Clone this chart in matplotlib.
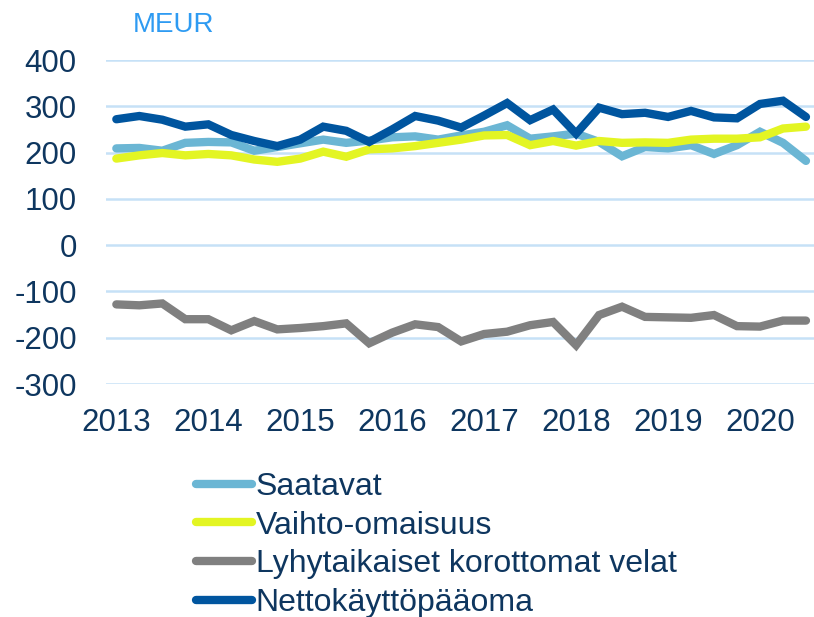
import matplotlib.pyplot as plt

# quarterly figures, 2013 Q1 .. 2020 Q3 (MEUR)
years = ["2013", "2014", "2015", "2016", "2017", "2018", "2019", "2020"]
saatavat = [209, 210, 204, 221, 223, 222, 204, 212, 220, 228, 221, 226, 233, 235, 228, 237,
            245, 259, 230, 235, 241, 223, 192, 212, 209, 216, 197, 216, 245, 221, 182]
vaihto = [187, 194, 199, 194, 197, 194, 185, 180, 187, 202, 191, 207, 209, 214, 221, 228,
          237, 238, 216, 225, 215, 225, 221, 222, 221, 228, 230, 230, 233, 252, 256]
velat = [-128, -130, -126, -160, -160, -184, -164, -182, -179, -175, -169, -212, -189, -171, -177, -208,
         -192, -187, -173, -166, -216, -151, -133, -155, -156, -157, -151, -175, -176, -163, -163]
netto = [272, 279, 271, 256, 261, 238, 225, 214, 228, 256, 247, 223, 250, 279, 269, 254,
         280, 307, 270, 293, 241, 297, 283, 286, 277, 290, 276, 274, 305, 312, 277]

series = [
    ("Saatavat", saatavat, "#6BB6D4"),
    ("Vaihto-omaisuus", vaihto, "#E3F523"),
    ("Lyhytaikaiset korottomat velat", velat, "#808080"),
    ("Nettokäyttöpääoma", netto, "#00559F"),
]

TEXT = "#0E365F"
GRID = "#C6E1F7"

plt.rcParams.update({
    "font.family": "Liberation Sans",
    "font.size": 22.5,
    "axes.unicode_minus": False,
    "text.color": TEXT,
    "xtick.color": TEXT,
    "ytick.color": TEXT,
})

fig = plt.figure(figsize=(8.14, 6.17), dpi=100)
ax = fig.add_axes([106 / 814, 233 / 617, 708 / 814, 324 / 617])

x = list(range(len(netto)))
for name, vals, color in series:
    ax.plot(x, vals, color=color, lw=6, label=name,
            solid_capstyle="round", solid_joinstyle="miter", clip_on=False)

ax.set_ylim(-300, 400)
ax.set_yticks(range(-300, 401, 100))
ax.set_xlim(-0.45, 30.35)
ax.set_xticks(range(0, 29, 4))
ax.set_xticklabels(years)

ax.grid(axis="y", color=GRID, lw=1.8, zorder=0)
ax.set_axisbelow(True)
for spine in ax.spines.values():
    spine.set_visible(False)
ax.tick_params(axis="y", length=0, pad=21)
ax.tick_params(axis="x", length=0, pad=17)

fig.text(133 / 814, (617 - 32) / 617, "MEUR", color="#2E9BF2", fontsize=20,
         va="baseline", ha="left")

leg = fig.legend(loc="upper left", bbox_to_anchor=(196 / 814, 1 - 472 / 617),
                 frameon=False, borderpad=0, borderaxespad=0, fontsize=23,
                 handlelength=1.75, handletextpad=0.12, labelspacing=0.27)
for t in leg.get_texts():
    t.set_color(TEXT)

fig.savefig("out.png", dpi=100, facecolor="white")
